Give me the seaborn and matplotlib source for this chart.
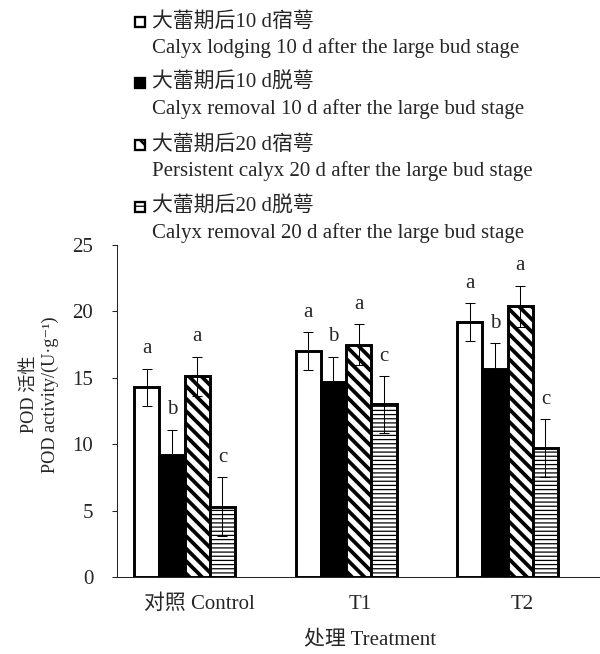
import numpy as np
import pandas as pd
import seaborn as sns
import matplotlib.pyplot as plt
from matplotlib.patches import Rectangle

# ---- data -------------------------------------------------------------
treatments = ["对照 Control", "T1", "T2"]

series_cn = ["大蕾期后10 d宿萼", "大蕾期后10 d脱萼",
             "大蕾期后20 d宿萼", "大蕾期后20 d脱萼"]
series_en = ["Calyx lodging 10 d after the large bud stage",
             "Calyx removal 10 d after the large bud stage",
             "Persistent calyx 20 d after the large bud stage",
             "Calyx removal 20 d after the large bud stage"]

# POD activity (U·g-1), one value per treatment
lodging_10d = [14.3, 17.0, 19.2]
removal_10d = [9.2, 14.7, 15.7]
persistent_20d = [15.1, 17.5, 20.4]
removal_20d = [5.3, 13.0, 9.7]

# standard deviations
sd_lodging_10d = [1.4, 1.45, 1.4]
sd_removal_10d = [1.9, 1.9, 1.9]
sd_persistent_20d = [1.5, 1.55, 1.55]
sd_removal_20d = [2.2, 2.15, 2.2]

# significance letters
sig_lodging_10d = ["a", "a", "a"]
sig_removal_10d = ["b", "b", "b"]
sig_persistent_20d = ["a", "a", "a"]
sig_removal_20d = ["c", "c", "c"]

values = [lodging_10d, removal_10d, persistent_20d, removal_20d]
sds = [sd_lodging_10d, sd_removal_10d, sd_persistent_20d, sd_removal_20d]
sigs = [sig_lodging_10d, sig_removal_10d, sig_persistent_20d, sig_removal_20d]

df = pd.DataFrame({
    "treatment": [t for _ in series_cn for t in treatments],
    "series": [s for s in series_cn for _ in treatments],
    "pod": [v for vals in values for v in vals],
})

# ---- style ------------------------------------------------------------
sns.set_style("ticks")
plt.rcParams["font.family"] = ["Liberation Serif", "Noto Sans CJK SC", "DejaVu Serif"]
plt.rcParams["axes.linewidth"] = 1.0
FS = 20

face = ["white", "black", "white", "white"]
hatches = [None, None, "\\\\", "---"]
hatch_lw = [1.0, 1.0, 3.6, 1.2]

DPI = 75
fig = plt.figure(figsize=(600 / DPI, 654 / DPI), dpi=DPI)
ax = fig.add_axes([117 / 600, 77 / 654, 483 / 600, 332 / 654])

plt.rcParams["hatch.linewidth"] = 3.6
sns.barplot(data=df, x="treatment", y="pod", hue="series",
            order=treatments, hue_order=series_cn,
            palette=face, saturation=1, width=0.625, gap=0,
            edgecolor="black", linewidth=2.8, errorbar=None,
            legend=False, ax=ax)

for cont, h, hlw, sd_list, sig_list in zip(ax.containers, hatches, hatch_lw, sds, sigs):
    for bar, sd, sig in zip(cont, sd_list, sig_list):
        if h:
            bar.set_hatch(h)
        if hasattr(bar, "set_hatch_linewidth"):
            bar.set_hatch_linewidth(hlw)
        cx = bar.get_x() + bar.get_width() / 2
        top = bar.get_height()
        ax.errorbar(cx, top, yerr=sd, fmt="none", ecolor="black",
                    elinewidth=1.0, capsize=5, capthick=1.0, zorder=5)
        ax.annotate(sig, (cx, top + sd), xytext=(0, 19),
                    textcoords="offset points", ha="center", va="center",
                    fontsize=FS)

# ---- axes -------------------------------------------------------------
ax.set_xlim(-0.418, 2.572)
ax.set_ylim(0, 25)
ax.set_yticks(np.arange(0, 26, 5))
ax.set_xticks(np.arange(len(treatments)) + 0.09, treatments)
ax.tick_params(axis="x", length=0, pad=17, labelsize=FS)
ax.tick_params(axis="y", direction="out", length=4.8, width=1.0,
               pad=18, labelsize=FS)
sns.despine(ax=ax)

ax.set_xlabel("处理 Treatment", fontsize=FS)
ax.xaxis.set_label_coords(0.524, -0.193)
ax.xaxis.label.set_verticalalignment("center")

ax.set_ylabel("POD 活性\nPOD activity/(U·g⁻¹)",
              fontsize=17.5, linespacing=1.25)
ax.yaxis.set_label_coords(-0.16, 0.55)
ax.yaxis.label.set_verticalalignment("center")

# ---- legend (two-line entries above the plot) ------------------------
entry_y = [22, 83, 145, 207]
for fc, h, hlw, cn, en, y in zip(face, hatches, hatch_lw, series_cn, series_en, entry_y):
    sq = Rectangle((135 / 600, 1 - (y + 5) / 654), 10 / 600, 10 / 654,
                   transform=fig.transFigure, facecolor=fc,
                   edgecolor="black", linewidth=2.2,
                   hatch=(h[:1] if h else None))
    if hasattr(sq, "set_hatch_linewidth"):
        sq.set_hatch_linewidth(min(hlw, 2.5))
    fig.add_artist(sq)
    fig.text(152 / 600, 1 - y / 654, cn, va="center", ha="left", fontsize=FS)
    fig.text(152 / 600, 1 - (y + 26) / 654, en, va="center", ha="left", fontsize=FS)

fig.savefig("out.png", dpi=DPI)
